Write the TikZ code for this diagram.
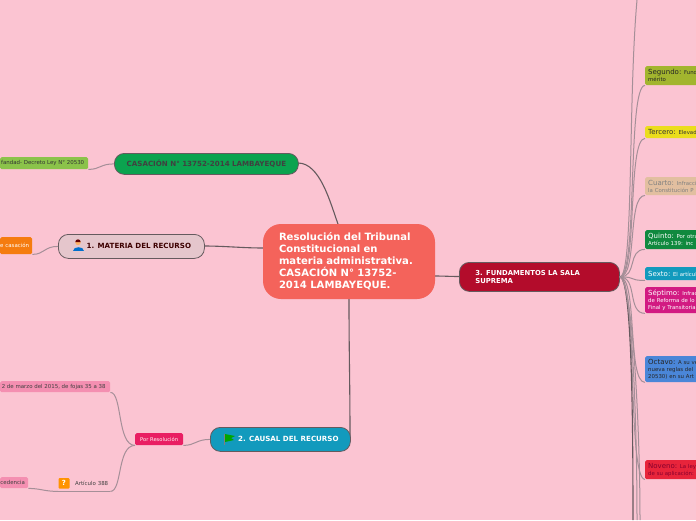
\documentclass[tikz,border=0pt]{standalone}
\usepackage{fontspec}
\setmainfont{DejaVu Sans}
\definecolor{fondo}{HTML}{FBC4D2}
\definecolor{linea}{HTML}{655A5E}
\definecolor{lineaclara}{HTML}{A58F98}
\definecolor{raizrojo}{HTML}{F4635B}
\definecolor{casacionverde}{HTML}{0BA34F}
\definecolor{materiarosa}{HTML}{E5C6CC}
\definecolor{causalazul}{HTML}{129ABD}
\definecolor{fundrojo}{HTML}{B30C2B}
\definecolor{verdehoja}{HTML}{8BC34A}
\definecolor{naranjahoja}{HTML}{F57C0F}
\definecolor{rosahoja}{HTML}{F48FB1}
\definecolor{rojohoja}{HTML}{E91E63}
\definecolor{h2}{HTML}{A2B52E}
\definecolor{h3}{HTML}{EBDD1D}
\definecolor{h4}{HTML}{E2BFA0}
\definecolor{h5}{HTML}{10893E}
\definecolor{h7}{HTML}{D21A82}
\definecolor{h8}{HTML}{4A86D8}
\definecolor{h9}{HTML}{E8243B}
\tikzset{
  rama/.style={draw=linea, line width=0.8pt, rounded corners=10pt, anchor=north west, inner sep=0pt, font=\fontsize{7.1}{8.2}\selectfont\bfseries},
  hoja/.style={rounded corners=1.5pt, anchor=north west, inner sep=0pt, align=left},
  hojader/.style={hoja, font=\fontsize{5.4}{7}\selectfont, minimum width=70pt, text width=64pt},
  hojaizq/.style={hoja, font=\fontsize{5.45}{7}\selectfont, align=right},
  conector/.style={linea, line width=1.1pt},
  conectorclaro/.style={lineaclara, line width=1pt},
}
\newcommand{\titulo}[1]{{\fontsize{7}{7}\selectfont #1}}
\begin{document}
\begin{tikzpicture}[x=1pt, y=-1pt]
  \useasboundingbox (0,0) rectangle (696,520);
  \clip (0,0) rectangle (696,520);
  \fill[fondo] (0,0) rectangle (696,520);
  % Extremos de los conectores
  \coordinate (arriba) at (637,0);
  \coordinate (abajoa) at (633,520);
  \coordinate (abajob) at (637,520);
  \coordinate (abajoc) at (640,520);
  \coordinate (raizn) at (338,224);
  \coordinate (raizo) at (263,248);
  \coordinate (raizs) at (349,298);
  \coordinate (raize) at (435,276);
  % Conectores del nodo central
  \draw[conector] (raizn) .. controls +(-8,-22) and +(22,0) .. (298,163) coordinate (casacionfin);
  \draw[conector] (raizo) .. controls +(-20,0) and +(20,0) .. (204,246) coordinate (materiafin);
  \draw[conector] (raizs) .. controls +(0,60) and +(0,-60) .. (350,439) coordinate (causalfin);
  \draw[conector] (raize) .. controls +(8,0) and +(-8,0) .. (459,276.5) coordinate (fundfin);
  % Nodo central
  \node[fill=raizrojo, rounded corners=18pt, minimum width=172pt, minimum height=75pt, inner sep=0pt, text width=140pt, text=white, align=left, font=\fontsize{10.05}{12}\selectfont\bfseries] (raiz) at (349,261.5) {Resolución del Tribunal\\Constitucional en\\materia administrativa.\\CASACIÓN N° 13752-\\2014 LAMBAYEQUE.};
  % Ramas principales
  \node[rama, fill=casacionverde, minimum width=184pt, minimum height=21pt, text=black!75, align=center] (casacion) at (114,153) {CASACIÓN N° 13752-2014 LAMBAYEQUE};
  \node[rama, fill=materiarosa, minimum width=146pt, minimum height=24pt, text=black!60!red!60!black, align=center] (materia) at (58,234) {\hspace{15pt}1. MATERIA DEL RECURSO};
  \node[rama, fill=causalazul, minimum width=140pt, minimum height=24pt, text=white, align=center] (causal) at (210,427) {\hspace{16pt}2. CAUSAL DEL RECURSO};
  \node[rama, fill=fundrojo, minimum width=160pt, minimum height=29pt, text=white, text width=128pt, align=left, font=\fontsize{6.85}{8}\selectfont\bfseries] (fundamentos) at (459,262) {3. FUNDAMENTOS LA SALA\\SUPREMA};
  % Iconos
  \fill[blue!45!cyan!80!black] (72.5,251) .. controls (72.5,246) and (84,246) .. (84,251) -- cycle;
  \fill[orange!60!white] (78,242.5) circle (2.7pt);
  \fill[red!40!black] (75.3,242) arc[start angle=180, end angle=0, radius=2.7pt] -- cycle;
  \draw[gray, line width=0.8pt] (224.5,434) -- (224.5,445);
  \fill[green!65!black] (225,434) -- (235,436) -- (231,438) -- (234,440) -- (225,442) -- cycle;
  % Hojas de la izquierda
  \node[hojaizq, fill=verdehoja, text=black!80, minimum width=88pt, minimum height=12pt] (orfandad) at (0,157) {fandad- Decreto Ley N° 20530\hspace{3pt}};
  \node[hojaizq, fill=naranjahoja, text=white, minimum width=32pt, minimum height=17pt] (casacionhoja) at (0,237) {e casación\hspace{3pt}};
  \node[hojaizq, fill=rosahoja, text=black!75, minimum width=110pt, minimum height=11pt] (fojas) at (0,381) {2 de marzo del 2015, de fojas 35 a 38\hspace{3pt}};
  \node[hojaizq, fill=rosahoja, text=black!75, minimum width=28pt, minimum height=11pt] (procedencia) at (0,477) {cedencia\hspace{3pt}};
  \node[hoja, fill=rojohoja, text=white!85!pink, font=\fontsize{5.2}{7}\selectfont, minimum width=48pt, minimum height=12pt, align=center] (resolucion) at (135,433) {Por Resolución};
  \node[hoja, text=black!75, font=\fontsize{5.45}{7}\selectfont, minimum width=52pt, minimum height=15pt, text width=48pt, align=right] (articulo) at (58,476) {Artículo 388};
  \fill[orange!85!yellow, rounded corners=1pt] (58.5,478) rectangle (69.5,488.5);
  \node[text=white, inner sep=0pt, font=\fontsize{7}{7}\selectfont\bfseries] (pregunta) at (64,483) {?};
  % Hojas de la derecha
  \node[hojader, fill=h2, text=black!85, minimum height=19pt] (segundo) at (645,66) {\titulo{Segundo:} Fund\\mérito};
  \node[hojader, fill=h3, text=black!80, minimum height=12pt] (tercero) at (645,126) {\titulo{Tercero:} Elevad};
  \node[hojader, fill=h4, text=black!50, minimum height=18pt] (cuarto) at (645,177) {\titulo{Cuarto:} Infracci\\la Constitución P};
  \node[hojader, fill=h5, text=white, minimum height=19pt] (quinto) at (645,230) {\titulo{Quinto:} Por otra\\Artículo 139: inc};
  \node[hojader, fill=causalazul, text=white, minimum height=13pt] (sexto) at (645,267) {\titulo{Sexto:} El artícul};
  \node[hojader, fill=h7, text=white, minimum height=26pt] (septimo) at (645,287) {\titulo{Séptimo:} Infrac\\de Reforma de lo\\Final y Transitoria};
  \node[hojader, fill=h8, text=black!85, minimum height=26pt] (octavo) at (645,356) {\titulo{Octavo:} A su ve\\nueva reglas del\\20530) en su Art};
  \node[hojader, fill=h9, text=purple!70!black, minimum height=19pt] (noveno) at (645,460) {\titulo{Noveno:} La ley\\de su aplicación:};
  % Conectores de la izquierda
  \draw[conectorclaro] (casacion.west) .. controls +(-14,0) and +(12,0) .. (orfandad.south east);
  \draw[conectorclaro] (materia.west) .. controls +(-14,0) and +(12,0) .. (casacionhoja.south east);
  \draw[conectorclaro] (causal.west) .. controls +(-14,0) and +(12,0) .. (resolucion.south east);
  \draw[conectorclaro] (resolucion.south west) .. controls +(-18,0) and +(12,0) .. (fojas.south east);
  \draw[conectorclaro] (resolucion.south west) .. controls +(-18,0) and +(12,0) .. (articulo.south east);
  \draw[conectorclaro] (articulo.south east) -- (articulo.south west);
  \draw[conectorclaro] (articulo.south west) .. controls +(-14,0) and +(12,0) .. (procedencia.south east);
  % Conectores de la derecha
  \draw[conectorclaro] (fundamentos.east) .. controls +(14,0) and +(-9,100) .. (arriba);
  \draw[conectorclaro] (fundamentos.east) .. controls +(18,0) and +(-18,0) .. (segundo.south west);
  \draw[conectorclaro] (fundamentos.east) .. controls +(18,0) and +(-18,0) .. (tercero.south west);
  \draw[conectorclaro] (fundamentos.east) .. controls +(18,0) and +(-18,0) .. (cuarto.south west);
  \draw[conectorclaro] (fundamentos.east) .. controls +(18,0) and +(-18,0) .. (quinto.south west);
  \draw[conectorclaro] (fundamentos.east) .. controls +(18,0) and +(-18,0) .. (sexto.south west);
  \draw[conectorclaro] (fundamentos.east) .. controls +(18,0) and +(-18,0) .. (septimo.south west);
  \draw[conectorclaro] (fundamentos.east) .. controls +(18,0) and +(-18,0) .. (octavo.south west);
  \draw[conectorclaro] (fundamentos.east) .. controls +(18,0) and +(-18,0) .. (noveno.south west);
  \draw[conector] (fundamentos.east) .. controls +(12,0) and +(0,-100) .. (abajoa);
  \draw[conectorclaro] (fundamentos.east) .. controls +(12,0) and +(0,-100) .. (abajob);
  \draw[conectorclaro] (fundamentos.east) .. controls +(12,0) and +(0,-100) .. (abajoc);
\end{tikzpicture}
\end{document}
